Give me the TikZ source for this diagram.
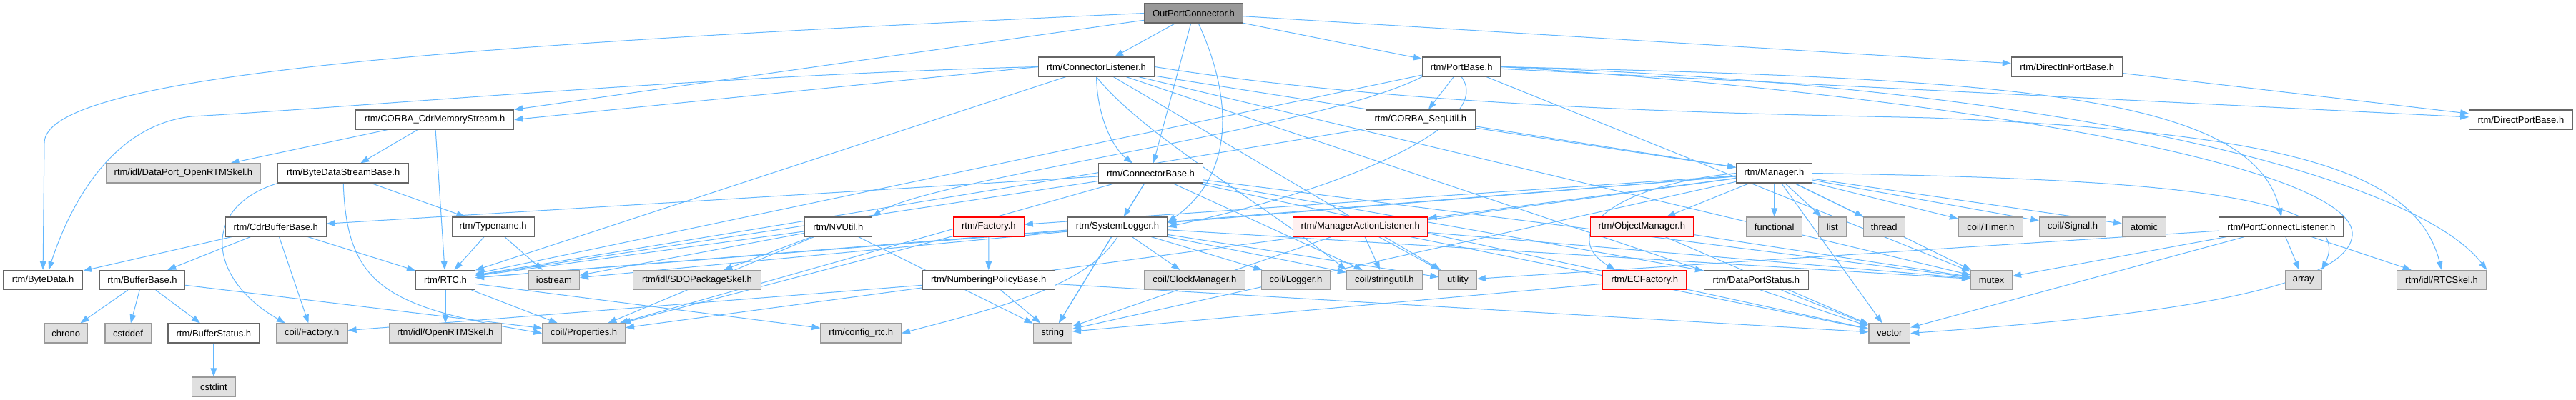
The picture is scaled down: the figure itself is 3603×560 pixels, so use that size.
\documentclass[tikz,border=0pt]{standalone}
\usepackage{fontspec}
\setmainfont{Liberation Sans}
\usetikzlibrary{arrows.meta,backgrounds}
\definecolor{edgec}{HTML}{63B8FF}
\definecolor{bordc}{HTML}{666666}
\definecolor{extfill}{HTML}{E0E0E0}
\definecolor{extbord}{HTML}{999999}
\definecolor{redfill}{HTML}{FFF0F0}
\definecolor{redbord}{HTML}{FF0000}
\definecolor{rootfill}{HTML}{999999}
\begin{document}
\begin{tikzpicture}[x=0.75pt,y=-0.75pt,
  wd/.style={minimum width=#1*0.75pt},
  box/.style={rectangle, draw=bordc, fill=white, line width=0.9pt, minimum height=20.25pt,
    inner sep=0pt, font=\fontsize{9.75}{11}\selectfont, text=black},
  extbox/.style={box, draw=extbord, fill=extfill},
  redbox/.style={box, draw=redbord, fill=redfill},
  rootbox/.style={box, draw=bordc, fill=rootfill},
  lnk/.style={draw=edgec, line width=0.75pt, -{Triangle[length=9pt,width=6.5pt]}}]
\useasboundingbox (0,0) rectangle (3603,560);

% ---------- nodes ----------
\node[rootbox,wd=137.8] (opc) at (1669.5,18.5) {OutPortConnector.h};
\node[box,wd=161.9] (cl) at (1533.5,93.5) {rtm/ConnectorListener.h};
\node[box,wd=145.4] (cb) at (1609.4,242.5) {rtm/ConnectorBase.h};
\node[box,wd=220.8] (cdrms) at (608.2,167.5) {rtm/CORBA\_CdrMemoryStream.h};
\node[extbox,wd=216.6] (dpskel) at (256.4,242.5) {rtm/idl/DataPort\_OpenRTMSkel.h};
\node[box,wd=182.9] (bdsb) at (480.2,242.5) {rtm/ByteDataStreamBase.h};
\node[box,wd=140.8] (cdrbb) at (385.7,317.5) {rtm/CdrBufferBase.h};
\node[box,wd=111] (bytedata) at (60.1,392) {rtm/ByteData.h};
\node[box,wd=119.4] (bufbase) at (199,392) {rtm/BufferBase.h};
\node[extbox,wd=60.4] (chrono) at (92.2,466.5) {chrono};
\node[extbox,wd=64.3] (cstddef) at (179.1,466.5) {cstddef};
\node[box,wd=127.8] (bufstatus) at (298.9,466.5) {rtm/BufferStatus.h};
\node[extbox,wd=60.5] (cstdint) at (298.9,541.5) {cstdint};
\node[extbox,wd=99.5] (cfactory) at (436.2,466.5) {coil/Factory.h};
\node[extbox,wd=156.9] (ortmskel) at (623,466.5) {rtm/idl/OpenRTMSkel.h};
\node[box,wd=82.7] (rtc) at (623,392) {rtm/RTC.h};
\node[box,wd=115.2] (typename) at (689.7,317.5) {rtm/Typename.h};
\node[extbox,wd=71.2] (iostream) at (774.9,392) {iostream};
\node[extbox,wd=178.4] (sdoskel) at (975,392) {rtm/idl/SDOPackageSkel.h};
\node[extbox,wd=115.6] (props) at (816.6,466.5) {coil/Properties.h};
\node[extbox,wd=112.5] (configrtc) at (1204.2,466.5) {rtm/config\_rtc.h};
\node[box,wd=94.5] (nvutil) at (1172.3,317.5) {rtm/NVUtil.h};
\node[redbox,wd=98.7] (factory) at (1382.9,317.5) {rtm/Factory.h};
\node[box,wd=139.7] (syslog) at (1563,317.5) {rtm/SystemLogger.h};
\node[box,wd=184.8] (numpol) at (1382.7,392) {rtm/NumberingPolicyBase.h};
\node[extbox,wd=140.4] (clockmgr) at (1670.9,392) {coil/ClockManager.h};
\node[extbox,wd=54] (string) at (1472.3,466.5) {string};
\node[extbox,wd=95.3] (clogger) at (1812.5,392) {coil/Logger.h};
\node[box,wd=109.4] (portbase) at (2044.1,93.5) {rtm/PortBase.h};
\node[box,wd=153.4] (sequtil) at (1986.9,167.5) {rtm/CORBA\_SeqUtil.h};
\node[redbox,wd=188.6] (mal) at (1902.7,317.5) {rtm/ManagerActionListener.h};
\node[redbox,wd=143.9] (objmgr) at (2296.3,317.5) {rtm/ObjectManager.h};
\node[extbox,wd=106] (stringutil) at (1936.4,392) {coil/stringutil.h};
\node[extbox,wd=52.4] (utility) at (2039,392) {utility};
\node[redbox,wd=117.5] (ecfactory) at (2300.3,392) {rtm/ECFactory.h};
\node[box,wd=145.8] (dpstatus) at (2456.4,392) {rtm/DataPortStatus.h};
\node[box,wd=155.7] (dinpb) at (2891.2,93.5) {rtm/DirectInPortBase.h};
\node[box,wd=105.6] (manager) at (2481.5,242.5) {rtm/Manager.h};
\node[extbox,wd=77.7] (functional) at (2481.7,317.5) {functional};
\node[extbox,wd=38.6] (list) at (2562.8,317.5) {list};
\node[extbox,wd=57.8] (thread) at (2635.2,317.5) {thread};
\node[extbox,wd=89.9] (timer) at (2784.4,317.5) {coil/Timer.h};
\node[extbox,wd=92.6] (signal) at (2899,317.5) {coil/Signal.h};
\node[extbox,wd=60.6] (atomic) at (2998.9,317.5) {atomic};
\node[extbox,wd=57.8] (mutex) at (2785.5,392) {mutex};
\node[extbox,wd=57.8] (vector) at (2642.8,466.5) {vector};
\node[box,wd=144.2] (dpb) at (3525.9,167.5) {rtm/DirectPortBase.h};
\node[box,wd=174.2] (pcl) at (3190.9,317.5) {rtm/PortConnectListener.h};
\node[extbox,wd=50.4] (array) at (3221.7,392) {array};
\node[extbox,wd=125.4] (rtcskel) at (3415,392) {rtm/idl/RTCSkel.h};

% ---------- edges ----------
\begin{pgfonlayer}{background}
\fill[white] (0,0) rectangle (3603,560);
% OutPortConnector.h
\draw[lnk] (opc.west) .. controls (700,60) and (62,100) .. (62,200) -- (bytedata.north);
\draw[lnk] (opc) -- (cdrms.north east);
\draw[lnk] (opc) -- (cl);
\draw[lnk] (opc) -- (cb);
\draw[lnk] ([xshift=5pt]opc.south) .. controls (1730,150) and (1720,250) .. ([yshift=5pt]syslog.east);
\draw[lnk] (opc) -- (portbase);
\draw[lnk] (opc) -- (dinpb);
% ConnectorListener.h
\draw[lnk] (cl.west) .. controls (1000,105) and (500,150) .. (268,163) .. controls (160,175) and (100,280) .. ([xshift=6pt]bytedata.north);
\draw[lnk] (cl.west) -- (cdrms.east);
\draw[lnk] (cl.south) .. controls (1535,170) and (1560,210) .. ([xshift=-19pt]cb.north);
\draw[lnk] (cl) -- (rtc);
\draw[lnk] (cl.south) .. controls (1600,190) and (1760,280) .. (stringutil.north west);
\draw[lnk] (cl) -- (manager);
\draw[lnk] (cl.east) .. controls (2000,155) and (2500,160) .. (2700,165) .. controls (3200,185) and (3380,240) .. (rtcskel.north);
\draw[lnk] (cl) -- (mutex);
\draw[lnk] (cl) -- (vector);
\draw[lnk] (cl) -- (utility);
% CORBA_CdrMemoryStream.h
\draw[lnk] (cdrms) -- (dpskel);
\draw[lnk] (cdrms) -- (bdsb);
\draw[lnk] (cdrms) -- (rtc);
% ByteDataStreamBase.h
\draw[lnk] (bdsb.south west) .. controls (280,290) and (290,390) .. ([xshift=-28pt]cfactory.north);
\draw[lnk] (bdsb) -- (typename);
\draw[lnk] (bdsb.south) .. controls (485,400) and (540,430) .. (props.west);
% CdrBufferBase.h
\draw[lnk] (cdrbb) -- (bytedata);
\draw[lnk] (cdrbb) -- (bufbase);
\draw[lnk] (cdrbb) -- (cfactory);
\draw[lnk] (cdrbb) -- (rtc);
% BufferBase.h
\draw[lnk] (bufbase) -- (chrono);
\draw[lnk] (bufbase) -- (cstddef);
\draw[lnk] (bufbase) -- (bufstatus);
\draw[lnk] (bufbase) -- (props);
\draw[lnk] (bufstatus) -- (cstdint);
% Typename.h, RTC.h
\draw[lnk] (typename) -- (rtc);
\draw[lnk] (typename) -- (iostream);
\draw[lnk] (rtc) -- (ortmskel);
\draw[lnk] (rtc) -- (props);
\draw[lnk] (rtc) -- (configrtc);
% ConnectorBase.h
\draw[lnk] (cb) -- (cdrbb);
\draw[lnk] (cb) -- (syslog);
\draw[lnk] (cb) -- (rtc);
\draw[lnk] (cb) -- (props);
\draw[lnk] (cb) -- (dpstatus);
\draw[lnk] (cb) -- (stringutil);
\draw[lnk] (cb) -- (string);
\draw[lnk] (cb) -- (vector);
\draw[lnk] (cb) -- (mutex);
% NVUtil.h
\draw[lnk] (nvutil) -- (rtc);
\draw[lnk] (nvutil) -- (iostream);
\draw[lnk] (nvutil) -- (sdoskel);
\draw[lnk] (nvutil) -- (props);
\draw[lnk] (nvutil) -- (string);
% Factory.h, NumberingPolicyBase.h
\draw[lnk] (factory) -- (numpol);
\draw[lnk] (factory) -- (props);
\draw[lnk] (numpol) -- (string);
\draw[lnk] (numpol) -- (vector);
\draw[lnk] (numpol) -- (cfactory);
% SystemLogger.h
\draw[lnk] (syslog) -- (clockmgr);
\draw[lnk] (syslog) -- (clogger);
\draw[lnk] (syslog) -- (string);
\draw[lnk] (syslog.south) .. controls (1520,400) and (1400,430) .. (configrtc.east);
\draw[lnk] (syslog) -- (rtc);
\draw[lnk] (syslog) -- (iostream);
\draw[lnk] (syslog) -- (stringutil);
\draw[lnk] (syslog) -- (utility);
\draw[lnk] (syslog) -- (mutex);
% PortBase.h
\draw[lnk] (portbase) -- (sequtil);
\draw[lnk] (portbase.south west) .. controls (1850,180) and (1300,250) .. (nvutil.north east);
\draw[lnk] (portbase) -- (rtc);
\draw[lnk] (portbase.south) .. controls (2090,170) and (1900,260) .. (syslog.east);
\draw[lnk] (portbase.east) .. controls (2800,110) and (3150,130) .. (pcl.north);
\draw[lnk] (portbase.east) .. controls (2900,120) and (3380,250) .. (rtcskel.north east);
\draw[lnk] (portbase) -- (dpb);
\draw[lnk] (portbase) -- (mutex);
\draw[lnk] (portbase.east) .. controls (2700,130) and (3300,230) .. (3290,330) .. controls (3280,420) and (2900,450) .. (vector.east);
% CORBA_SeqUtil.h
\draw[lnk] (sequtil) -- (rtc);
\draw[lnk] (sequtil) -- (manager);
% Manager.h
\draw[lnk] (manager) -- (functional);
\draw[lnk] (manager) -- (list);
\draw[lnk] (manager) -- (thread);
\draw[lnk] (manager) -- (timer);
\draw[lnk] (manager) -- (signal);
\draw[lnk] (manager) -- (atomic);
\draw[lnk] (manager) -- (mutex);
\draw[lnk] (manager) -- (vector);
\draw[lnk] (manager) -- (objmgr);
\draw[lnk] (manager.west) .. controls (2250,260) and (2180,330) .. ([xshift=-31pt]ecfactory.north);
\draw[lnk] (manager) -- (mal);
\draw[lnk] (manager) -- (factory);
\draw[lnk] (manager) -- (syslog);
\draw[lnk] (manager) -- (rtc);
\draw[lnk] (manager) -- (string);
\draw[lnk] (manager) -- (props);
\draw[lnk] (manager.east) .. controls (3000,250) and (3300,270) .. (array.north east);
% ManagerActionListener.h, ObjectManager.h, ECFactory.h, DataPortStatus.h
\draw[lnk] (mal) -- (stringutil);
\draw[lnk] (mal) -- (utility);
\draw[lnk] (mal) -- (mutex);
\draw[lnk] (mal) -- (vector);
\draw[lnk] (mal) -- (string);
\draw[lnk] (objmgr) -- (mutex);
\draw[lnk] (objmgr) -- (vector);
\draw[lnk] (ecfactory) -- (string);
\draw[lnk] (dpstatus) -- (vector);
% PortConnectListener.h, DirectInPortBase.h
\draw[lnk] (pcl) -- (mutex);
\draw[lnk] (pcl) -- (vector);
\draw[lnk] (pcl) -- (array);
\draw[lnk] (pcl) -- (rtcskel);
\draw[lnk] (pcl) -- (utility);
\draw[lnk] (dinpb) -- (dpb);
\end{pgfonlayer}
\end{tikzpicture}
\end{document}
